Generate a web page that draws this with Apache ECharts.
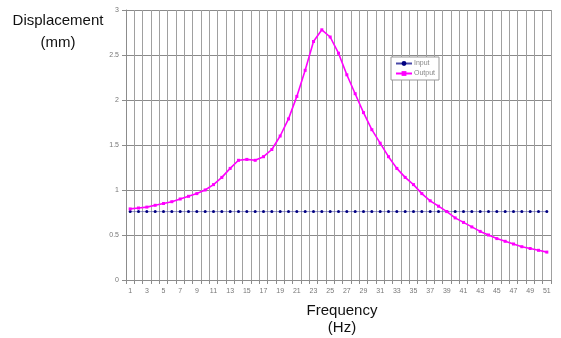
<!DOCTYPE html>
<html>
<head>
<meta charset="utf-8">
<script src="https://cdn.jsdelivr.net/npm/echarts@6/dist/echarts.min.js"></script>
<style>
  html, body { margin: 0; padding: 0; background: #fff; }
  #chart { width: 561px; height: 338px; }
</style>
</head>
<body>
<div id="chart"></div>
<script>
// Frequency sweep 1..51 Hz
const frequencies = Array.from({ length: 51 }, (_, i) => String(i + 1));

// Input displacement (mm), constant excitation
const inputValues = [
  0.76, 0.76, 0.76, 0.76, 0.76, 0.76, 0.76, 0.76, 0.76, 0.76,
  0.76, 0.76, 0.76, 0.76, 0.76, 0.76, 0.76, 0.76, 0.76, 0.76,
  0.76, 0.76, 0.76, 0.76, 0.76, 0.76, 0.76, 0.76, 0.76, 0.76,
  0.76, 0.76, 0.76, 0.76, 0.76, 0.76, 0.76, 0.76, 0.76, 0.76,
  0.76, 0.76, 0.76, 0.76, 0.76, 0.76, 0.76, 0.76, 0.76, 0.76,
  0.76
];

// Output displacement (mm), resonance near 24 Hz
const outputValues = [
  0.79, 0.80, 0.81, 0.83, 0.85, 0.87, 0.90, 0.93, 0.96, 1.00,
  1.06, 1.14, 1.24, 1.33, 1.34, 1.33, 1.37, 1.45, 1.60, 1.79,
  2.04, 2.33, 2.65, 2.78, 2.70, 2.52, 2.28, 2.07, 1.86, 1.67,
  1.52, 1.37, 1.24, 1.14, 1.06, 0.96, 0.88, 0.82, 0.76, 0.69,
  0.64, 0.59, 0.54, 0.50, 0.46, 0.43, 0.40, 0.37, 0.35, 0.33,
  0.31
];

const yTicks = ['0', '0.5', '1', '1.5', '2', '2.5', '3'];

const chart = echarts.init(document.getElementById('chart'), null, { renderer: 'canvas' });

const axisGray = '#8c8c8c';
const labelGray = '#777';

chart.setOption({
  backgroundColor: '#ffffff',
  animation: false,
  grid: { left: 126, right: 10, top: 10, bottom: 58, containLabel: false },
  legend: {
    orient: 'vertical',
    left: 391,
    top: 57,
    padding: [3, 4, 3, 4],
    itemGap: 3,
    itemWidth: 16,
    itemHeight: 6,
    backgroundColor: '#ffffff',
    borderColor: '#999',
    borderWidth: 1,
    borderRadius: 0,
    textStyle: { fontFamily: 'Liberation Sans', fontSize: 7, color: '#888', padding: [0, 0, 0, -3] },
    data: ['Input', 'Output']
  },
  xAxis: {
    type: 'category',
    data: frequencies,
    boundaryGap: true,
    axisLine: { show: true, lineStyle: { color: axisGray, width: 1 } },
    axisTick: { show: true, interval: 0, length: 4, lineStyle: { color: axisGray } },
    axisLabel: {
      interval: 1,
      fontFamily: 'Liberation Sans',
      fontSize: 7,
      color: labelGray,
      margin: 8
    },
    splitLine: { show: true, interval: 0, lineStyle: { color: '#a0a0a0', width: 1 } }
  },
  yAxis: {
    type: 'value',
    min: 0,
    max: 3,
    interval: 0.5,
    axisLine: { show: true, lineStyle: { color: axisGray, width: 1 } },
    axisTick: { show: true, length: 4, lineStyle: { color: axisGray } },
    axisLabel: {
      fontFamily: 'Liberation Sans',
      fontSize: 7,
      color: labelGray,
      margin: 7,
      formatter: (v) => yTicks[Math.round(v / 0.5)]
    },
    splitLine: { show: true, lineStyle: { color: '#8a8a8a', width: 1 } }
  },
  graphic: [
    {
      type: 'text',
      style: {
        x: 58, y: 10,
        text: 'Displacement\n(mm)',
        align: 'center',
        lineHeight: 22,
        font: '15px "Liberation Sans"',
        fill: '#111'
      }
    },
    {
      type: 'text',
      style: {
        x: 342, y: 302,
        text: 'Frequency\n(Hz)',
        align: 'center',
        lineHeight: 17,
        font: '15px "Liberation Sans"',
        fill: '#111'
      }
    }
  ],
  series: [
    {
      name: 'Input',
      type: 'line',
      data: inputValues,
      symbol: 'circle',
      symbolSize: 3,
      itemStyle: { color: '#000080' },
      lineStyle: { color: '#4a4aa8', width: 0.6 },
      z: 3
    },
    {
      name: 'Output',
      type: 'line',
      data: outputValues,
      symbol: 'rect',
      symbolSize: 3,
      itemStyle: { color: '#ff00ff' },
      lineStyle: { color: '#ff00ff', width: 1.6 },
      z: 4
    }
  ]
});
</script>
</body>
</html>
